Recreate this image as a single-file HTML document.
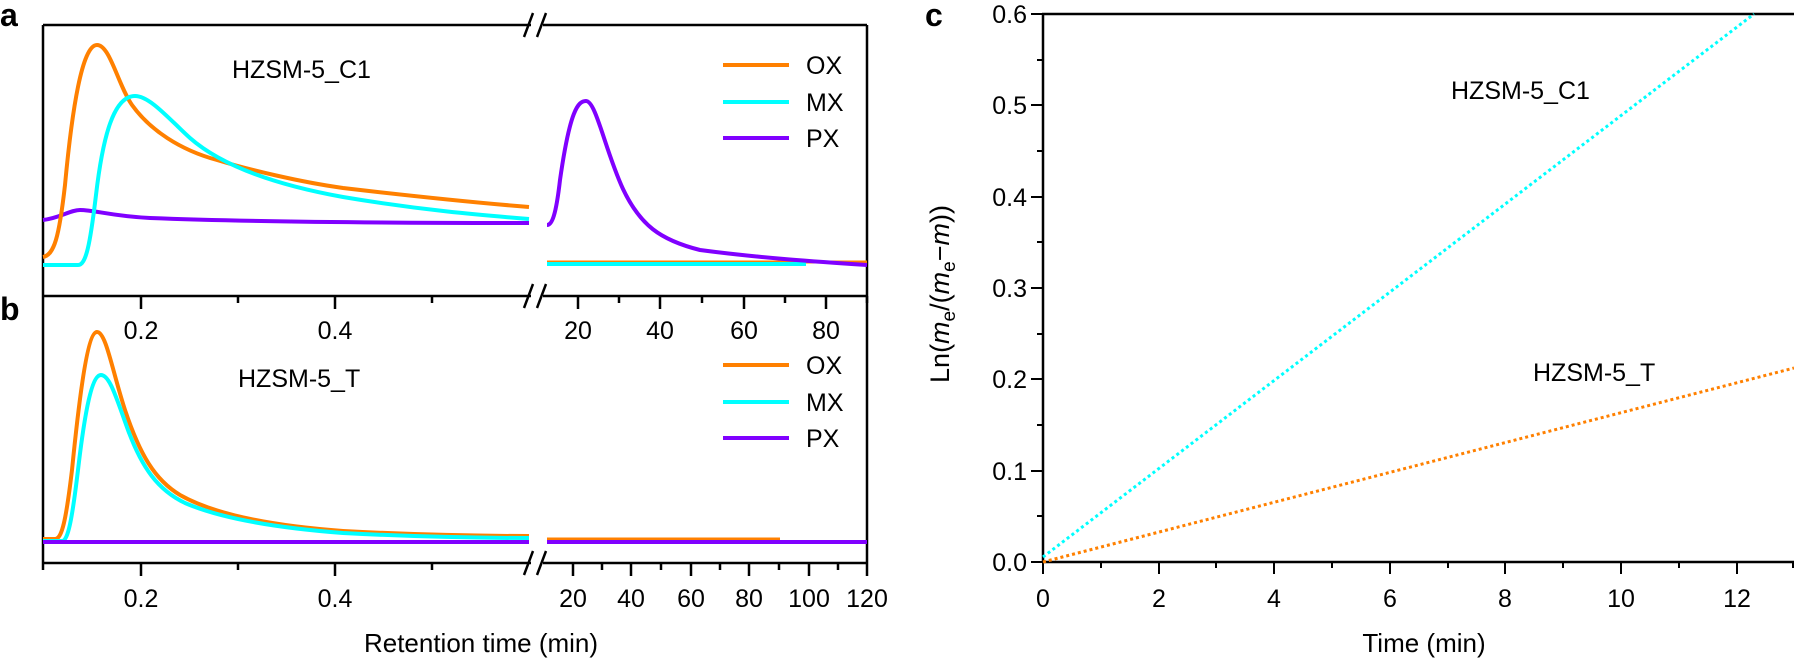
<!DOCTYPE html>
<html><head><meta charset="utf-8"><style>
html,body{margin:0;padding:0;background:#fff;}
svg{display:block;font-family:"Liberation Sans",Arial,sans-serif;}
</style></head><body>
<svg width="1794" height="659" viewBox="0 0 1794 659" xmlns="http://www.w3.org/2000/svg">
<rect width="1794" height="659" fill="#fff"/>
<text x="0" y="26" font-size="32" font-weight="bold">a</text>
<text x="0" y="320" font-size="32" font-weight="bold">b</text>
<text x="925" y="26" font-size="32" font-weight="bold">c</text>

<g stroke="#000" stroke-width="2.5" fill="none">
 <line x1="43" y1="25" x2="531" y2="25"/><line x1="543" y1="25" x2="867" y2="25"/>
 <line x1="43" y1="296" x2="531" y2="296"/><line x1="543" y1="296" x2="867" y2="296"/>
 <line x1="43" y1="563" x2="531" y2="563"/><line x1="543" y1="563" x2="867" y2="563"/>
 <line x1="43" y1="25" x2="43" y2="563"/>
 <line x1="867" y1="25" x2="867" y2="563"/>
 <line x1="524" y1="37" x2="533" y2="13"/><line x1="537" y1="37" x2="546" y2="13"/>
 <line x1="524" y1="308" x2="533" y2="284"/><line x1="537" y1="308" x2="546" y2="284"/>
 <line x1="524" y1="575" x2="533" y2="551"/><line x1="537" y1="575" x2="546" y2="551"/>
 <line x1="141" y1="296" x2="141" y2="309"/><line x1="335" y1="296" x2="335" y2="309"/>
 <line x1="238" y1="296" x2="238" y2="303"/><line x1="432" y1="296" x2="432" y2="303"/>
 <line x1="578" y1="296" x2="578" y2="309"/><line x1="660" y1="296" x2="660" y2="309"/>
 <line x1="744" y1="296" x2="744" y2="309"/><line x1="826" y1="296" x2="826" y2="309"/>
 <line x1="619" y1="296" x2="619" y2="303"/><line x1="702" y1="296" x2="702" y2="303"/>
 <line x1="785" y1="296" x2="785" y2="303"/><line x1="867" y1="296" x2="867" y2="303"/>
 <line x1="43" y1="563" x2="43" y2="570"/>
 <line x1="141" y1="563" x2="141" y2="576"/><line x1="335" y1="563" x2="335" y2="576"/>
 <line x1="238" y1="563" x2="238" y2="570"/><line x1="432" y1="563" x2="432" y2="570"/>
 <line x1="573" y1="563" x2="573" y2="576"/><line x1="631" y1="563" x2="631" y2="576"/>
 <line x1="691" y1="563" x2="691" y2="576"/><line x1="749" y1="563" x2="749" y2="576"/>
 <line x1="809" y1="563" x2="809" y2="576"/><line x1="867" y1="563" x2="867" y2="576"/>
 <line x1="602" y1="563" x2="602" y2="570"/><line x1="661" y1="563" x2="661" y2="570"/>
 <line x1="720" y1="563" x2="720" y2="570"/><line x1="779" y1="563" x2="779" y2="570"/>
 <line x1="838" y1="563" x2="838" y2="570"/>
</g>
<g font-size="25" text-anchor="middle">
 <text x="141" y="339">0.2</text><text x="335" y="339">0.4</text>
 <text x="578" y="339">20</text><text x="660" y="339">40</text><text x="744" y="339">60</text><text x="826" y="339">80</text>
 <text x="141" y="607">0.2</text><text x="335" y="607">0.4</text>
 <text x="573" y="607">20</text><text x="631" y="607">40</text><text x="691" y="607">60</text><text x="749" y="607">80</text><text x="809" y="607">100</text><text x="867" y="607">120</text>
 <text x="481" y="652" font-size="26">Retention time (min)</text>
</g>

<g fill="none" stroke-width="4" stroke-linejoin="round" stroke-linecap="butt">
 <path stroke="#8000ff" d="M43,220 C60,218 70,210 80,210 C95,210 110,216 150,218 C250,222 400,223 529,223"/>
 <path stroke="#ff8000" d="M43,257 C54,255 59,238 65,185 C72,110 82,45 97,45 C110,45 118,85 132,105 C150,130 180,150 217,160 C250,170 300,182 343,188 C420,197 480,203 529,207"/>
 <path stroke="#00ffff" d="M43,265 L78,265 C86,265 90,245 96,195 C103,135 114,96 135,96 C150,96 170,120 190,138 C215,160 260,182 343,197 C420,210 480,215 529,219"/>
 <path stroke="#ff8000" stroke-width="3" d="M547,262 L867,262"/>
 <path stroke="#00ffff" d="M547,264 L806,264"/>
 <path stroke="#8000ff" d="M547,225 C552,225 556,215 560,180 C570,110 578,101 586,101 C596,101 605,150 623,189 C640,225 660,240 700,250 C760,258 820,262 867,265"/>
 <path stroke="#ff8000" d="M43,539 L55,539 C62,539 66,520 72,470 C80,390 88,332 97,332 C106,332 112,370 125,410 C140,455 155,480 180,495 C210,512 260,525 343,531 C420,535 480,536 529,536"/>
 <path stroke="#00ffff" d="M43,541 L62,541 C68,541 72,520 78,470 C85,410 92,375 101,375 C110,375 117,400 128,430 C142,468 158,490 185,503 C215,516 265,527 343,533 C420,537 480,538 529,538"/>
 <path stroke="#ff8000" stroke-width="3" d="M547,539 L780,539"/>
 <path stroke="#8000ff" d="M43,542 L529,542 M547,542 L867,542"/>
 <path stroke="#ff8000" d="M723,65 L789,65 M723,365 L789,365"/>
 <path stroke="#00ffff" d="M723,102 L789,102 M723,402 L789,402"/>
 <path stroke="#8000ff" d="M723,138 L789,138 M723,438 L789,438"/>
</g>
<g font-size="25">
 <text x="806" y="74">OX</text><text x="806" y="111">MX</text><text x="806" y="147">PX</text>
 <text x="806" y="374">OX</text><text x="806" y="411">MX</text><text x="806" y="447">PX</text>
 <text x="232" y="78">HZSM-5_C1</text>
 <text x="238" y="387">HZSM-5_T</text>
</g>

<g stroke="#000" stroke-width="2.5" fill="none">
 <line x1="1043" y1="13" x2="1043" y2="563"/>
 <line x1="1042" y1="562" x2="1794" y2="562"/>
 <line x1="1042" y1="14" x2="1794" y2="14"/>
</g>
<g stroke="#000" stroke-width="2">
 <line x1="1031" y1="562" x2="1043" y2="562"/><line x1="1031" y1="471" x2="1043" y2="471"/>
 <line x1="1031" y1="379" x2="1043" y2="379"/><line x1="1031" y1="288" x2="1043" y2="288"/>
 <line x1="1031" y1="197" x2="1043" y2="197"/><line x1="1031" y1="105" x2="1043" y2="105"/>
 <line x1="1031" y1="14" x2="1043" y2="14"/>
 <line x1="1037" y1="516" x2="1043" y2="516"/><line x1="1037" y1="425" x2="1043" y2="425"/>
 <line x1="1037" y1="334" x2="1043" y2="334"/><line x1="1037" y1="242" x2="1043" y2="242"/>
 <line x1="1037" y1="151" x2="1043" y2="151"/><line x1="1037" y1="60" x2="1043" y2="60"/>
 <line x1="1043" y1="562" x2="1043" y2="574"/><line x1="1159" y1="562" x2="1159" y2="574"/>
 <line x1="1274" y1="562" x2="1274" y2="574"/><line x1="1390" y1="562" x2="1390" y2="574"/>
 <line x1="1505" y1="562" x2="1505" y2="574"/><line x1="1621" y1="562" x2="1621" y2="574"/>
 <line x1="1737" y1="562" x2="1737" y2="574"/>
 <line x1="1101" y1="562" x2="1101" y2="568"/><line x1="1216" y1="562" x2="1216" y2="568"/>
 <line x1="1332" y1="562" x2="1332" y2="568"/><line x1="1448" y1="562" x2="1448" y2="568"/>
 <line x1="1563" y1="562" x2="1563" y2="568"/><line x1="1679" y1="562" x2="1679" y2="568"/>
 <line x1="1793" y1="562" x2="1793" y2="568"/>
</g>
<g font-size="25" text-anchor="end">
 <text x="1027" y="571">0.0</text><text x="1027" y="480">0.1</text><text x="1027" y="388">0.2</text>
 <text x="1027" y="297">0.3</text><text x="1027" y="206">0.4</text><text x="1027" y="114">0.5</text>
 <text x="1027" y="23">0.6</text>
</g>
<g font-size="25" text-anchor="middle">
 <text x="1043" y="607">0</text><text x="1159" y="607">2</text><text x="1274" y="607">4</text>
 <text x="1390" y="607">6</text><text x="1505" y="607">8</text><text x="1621" y="607">10</text>
 <text x="1737" y="607">12</text>
 <text x="1424" y="652" font-size="26">Time (min)</text>
</g>
<text transform="translate(949,294) rotate(-90)" font-size="27" text-anchor="middle">Ln(<tspan font-style="italic">m</tspan><tspan font-size="19" dy="6">e</tspan><tspan dy="-6">/(</tspan><tspan font-style="italic">m</tspan><tspan font-size="19" dy="6">e</tspan><tspan dy="-6">−</tspan><tspan font-style="italic">m</tspan>))</text>
<g fill="none" stroke-width="3" stroke-dasharray="3 3">
 <path stroke="#00ffff" d="M1043,557 L1754,14"/>
 <path stroke="#ff8000" d="M1043,562 L1794,368"/>
</g>
<g font-size="25">
 <text x="1451" y="99">HZSM-5_C1</text>
 <text x="1533" y="381">HZSM-5_T</text>
</g>
</svg>
</body></html>
